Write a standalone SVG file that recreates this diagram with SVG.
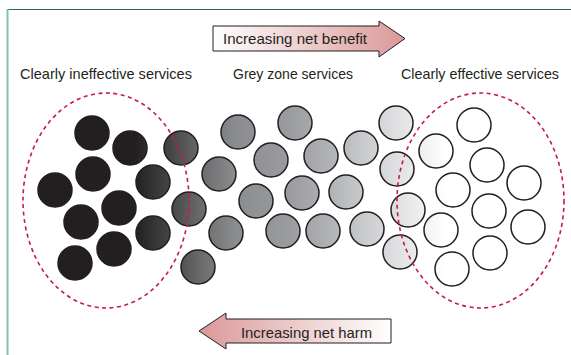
<svg xmlns="http://www.w3.org/2000/svg" width="571" height="355" viewBox="0 0 571 355">
<style>
.lbl{font-family:"Liberation Sans",Arial,sans-serif;font-size:15px;fill:#231f20}
.c{fill:url(#shade);stroke:#231f20;stroke-width:1.5}
.ell{fill:none;stroke:#c51a4a;stroke-width:1.6;stroke-dasharray:4 3.5}
.arr{stroke:#231f20;stroke-width:1}
</style>
<defs>
<linearGradient id="shade" gradientUnits="userSpaceOnUse" x1="130" y1="0" x2="450" y2="0">
<stop offset="0.016" stop-color="#231f20"/>
<stop offset="0.125" stop-color="#454545"/>
<stop offset="0.219" stop-color="#6a6a6b"/>
<stop offset="0.328" stop-color="#8b8c8f"/>
<stop offset="0.5" stop-color="#9a9c9f"/>
<stop offset="0.625" stop-color="#b0b2b5"/>
<stop offset="0.78" stop-color="#d4d5d7"/>
<stop offset="0.906" stop-color="#eeeeef"/>
<stop offset="0.984" stop-color="#ffffff"/>
</linearGradient>
<linearGradient id="benefit" x1="0" y1="0" x2="1" y2="0">
<stop offset="0" stop-color="#ffffff"/>
<stop offset="1" stop-color="#db9898"/>
</linearGradient>
<linearGradient id="harm" x1="0" y1="0" x2="1" y2="0">
<stop offset="0" stop-color="#db9898"/>
<stop offset="1" stop-color="#ffffff"/>
</linearGradient>
</defs>
<rect width="571" height="355" fill="#ffffff"/>
<g id="frame">
<line x1="7" y1="9.5" x2="571" y2="9.5" stroke="#1e6e4a" stroke-width="1.2"/>
<line x1="7.5" y1="9" x2="7.5" y2="355" stroke="#82c4a5" stroke-width="2"/>
</g>
<g id="arrow-benefit">
<path class="arr" fill="url(#benefit)" d="M213,26 H379 V21 L405,38.5 L379,57 V51 H213 Z"/>
<text class="lbl" x="223" y="43.5" textLength="144" lengthAdjust="spacingAndGlyphs">Increasing net benefit</text>
</g>
<g id="arrow-harm">
<path class="arr" fill="url(#harm)" d="M199,331 L226,313 V319 H391 V343 H226 V349 Z"/>
<text class="lbl" x="241" y="337.5" textLength="131" lengthAdjust="spacingAndGlyphs">Increasing net harm</text>
</g>
<g id="labels">
<text class="lbl" x="106" y="79" text-anchor="middle" textLength="172" lengthAdjust="spacingAndGlyphs">Clearly ineffective services</text>
<text class="lbl" x="293" y="79" text-anchor="middle" textLength="120" lengthAdjust="spacingAndGlyphs">Grey zone services</text>
<text class="lbl" x="480" y="79" text-anchor="middle" textLength="158" lengthAdjust="spacingAndGlyphs">Clearly effective services</text>
</g>
<g id="ineffective-services">
<circle class="c" cx="92" cy="133" r="17"/>
<circle class="c" cx="130" cy="148" r="17"/>
<circle class="c" cx="93" cy="174" r="17"/>
<circle class="c" cx="55" cy="190" r="17"/>
<circle class="c" cx="153" cy="182" r="17"/>
<circle class="c" cx="119" cy="208" r="17"/>
<circle class="c" cx="81" cy="222" r="17"/>
<circle class="c" cx="153" cy="233" r="17"/>
<circle class="c" cx="114" cy="249" r="17"/>
<circle class="c" cx="75" cy="263" r="17"/>
</g>
<g id="grey-zone-services">
<circle class="c" cx="181" cy="148" r="17"/>
<circle class="c" cx="189" cy="209" r="17"/>
<circle class="c" cx="198" cy="267" r="17"/>
<circle class="c" cx="219" cy="174" r="17"/>
<circle class="c" cx="238" cy="132" r="17"/>
<circle class="c" cx="226" cy="233" r="17"/>
<circle class="c" cx="256" cy="201" r="17"/>
<circle class="c" cx="271" cy="160" r="17"/>
<circle class="c" cx="295" cy="123" r="17"/>
<circle class="c" cx="283" cy="231" r="17"/>
<circle class="c" cx="321" cy="156" r="17"/>
<circle class="c" cx="302" cy="193" r="17"/>
<circle class="c" cx="346" cy="192" r="17"/>
<circle class="c" cx="323" cy="231" r="17"/>
<circle class="c" cx="361" cy="148" r="17"/>
<circle class="c" cx="367" cy="229" r="17"/>
<circle class="c" cx="396" cy="123" r="17"/>
<circle class="c" cx="397" cy="169" r="17"/>
<circle class="c" cx="408" cy="210" r="17"/>
<circle class="c" cx="400" cy="252" r="17"/>
</g>
<g id="effective-services">
<circle class="c" cx="436" cy="151" r="17"/>
<circle class="c" cx="474" cy="125" r="17"/>
<circle class="c" cx="487" cy="165" r="17"/>
<circle class="c" cx="453" cy="190" r="17"/>
<circle class="c" cx="524" cy="183" r="17"/>
<circle class="c" cx="489" cy="211" r="17"/>
<circle class="c" cx="441" cy="230" r="17"/>
<circle class="c" cx="528" cy="227" r="17"/>
<circle class="c" cx="490" cy="253" r="17"/>
<circle class="c" cx="452" cy="269" r="17"/>
</g>
<g id="ellipse-ineffective">
<ellipse class="ell" cx="106" cy="200.5" rx="83" ry="107.5"/>
</g>
<g id="ellipse-effective">
<ellipse class="ell" cx="480.5" cy="200.5" rx="83.5" ry="107.5"/>
</g>
</svg>
